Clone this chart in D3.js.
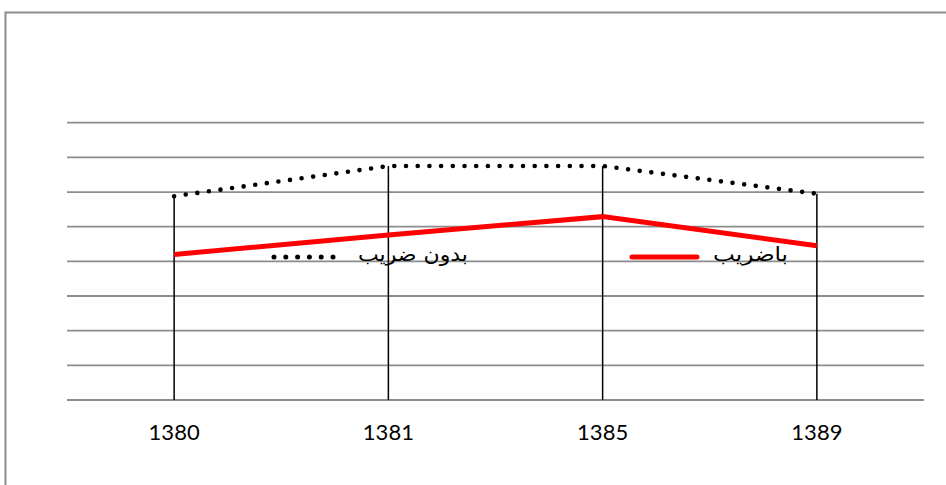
<!DOCTYPE html>
<html>
<head>
<meta charset="utf-8">
<script src="https://cdn.jsdelivr.net/npm/d3@7"></script>
<style>
  html, body { margin: 0; padding: 0; background: #fff; }
  svg { display: block; }
</style>
</head>
<body>
<svg id="chart" width="946" height="485"></svg>
<script>
const categories = ["1380", "1381", "1385", "1389"];
const withoutCoef = [5.88, 6.75, 6.75, 5.95];   // بدون ضریب (dotted)
const withCoef = [4.2, 4.76, 5.29, 4.45];        // باضریب (red)
const gridTicks = [0, 1, 2, 3, 4, 5, 6, 7, 8];
const seriesNames = ["بدون ضریب", "باضریب"];

const svg = d3.select("#chart");

// frame
svg.append("rect")
  .attr("x", 5.5).attr("y", 12.5)
  .attr("width", 1000).attr("height", 600)
  .attr("fill", "none").attr("stroke", "#8c8c8c").attr("stroke-width", 2);

const x = d3.scaleBand().domain(categories).range([67, 924]);
const y = d3.scaleLinear().domain([0, 8]).range([400, 122.7]);
const cx = d => x(d) + x.bandwidth() / 2;

// gridlines
svg.append("g").selectAll("line").data(gridTicks).join("line")
  .attr("x1", 67).attr("x2", 924)
  .attr("y1", d => y(d)).attr("y2", d => y(d))
  .attr("stroke", "#8c8c8c").attr("stroke-width", 1.8);

// x axis labels
const xAxis = d3.axisBottom(x).tickSize(0).tickPadding(0);
const gx = svg.append("g").attr("transform", `translate(0,${y(0)})`).call(xAxis);
gx.select(".domain").remove();
gx.selectAll("text")
  .attr("dy", null)
  .attr("y", 40)
  .attr("fill", "#000")
  .style("font-family", "Lato, 'Open Sans', sans-serif")
  .style("font-size", "22px");

// drop lines
svg.append("g").selectAll("line").data(categories).join("line")
  .attr("x1", d => cx(d)).attr("x2", d => cx(d))
  .attr("y1", (d, i) => y(withoutCoef[i])).attr("y2", y(0))
  .attr("stroke", "#000").attr("stroke-width", 1.5);

const line = d3.line().x((d, i) => cx(categories[i])).y(d => y(d));

// red series
svg.append("path").datum(withCoef)
  .attr("d", line)
  .attr("fill", "none").attr("stroke", "#ff0000").attr("stroke-width", 5);

// dotted series
svg.append("path").datum(withoutCoef)
  .attr("d", line)
  .attr("fill", "none").attr("stroke", "#000").attr("stroke-width", 4.6)
  .attr("stroke-linecap", "round").attr("stroke-dasharray", "0,11.7");

// legend
const legY = 257;
const leg = svg.append("g");
leg.append("line")
  .attr("x1", 274).attr("x2", 334).attr("y1", legY).attr("y2", legY)
  .attr("stroke", "#000").attr("stroke-width", 5)
  .attr("stroke-linecap", "round").attr("stroke-dasharray", "0,11.8");
leg.append("text")
  .attr("x", 358).attr("y", 261)
  .attr("text-anchor", "start")
  .attr("textLength", 110)
  .attr("lengthAdjust", "spacingAndGlyphs")
  .style("font-family", "'DejaVu Sans', sans-serif")
  .style("font-size", "20px")
  .text(seriesNames[0]);
leg.append("line")
  .attr("x1", 632).attr("x2", 697).attr("y1", legY).attr("y2", legY)
  .attr("stroke", "#ff0000").attr("stroke-width", 5)
  .attr("stroke-linecap", "round");
leg.append("text")
  .attr("x", 713).attr("y", 261)
  .attr("text-anchor", "start")
  .attr("textLength", 75)
  .attr("lengthAdjust", "spacingAndGlyphs")
  .style("font-family", "'DejaVu Sans', sans-serif")
  .style("font-size", "20px")
  .text(seriesNames[1]);
</script>
</body>
</html>
